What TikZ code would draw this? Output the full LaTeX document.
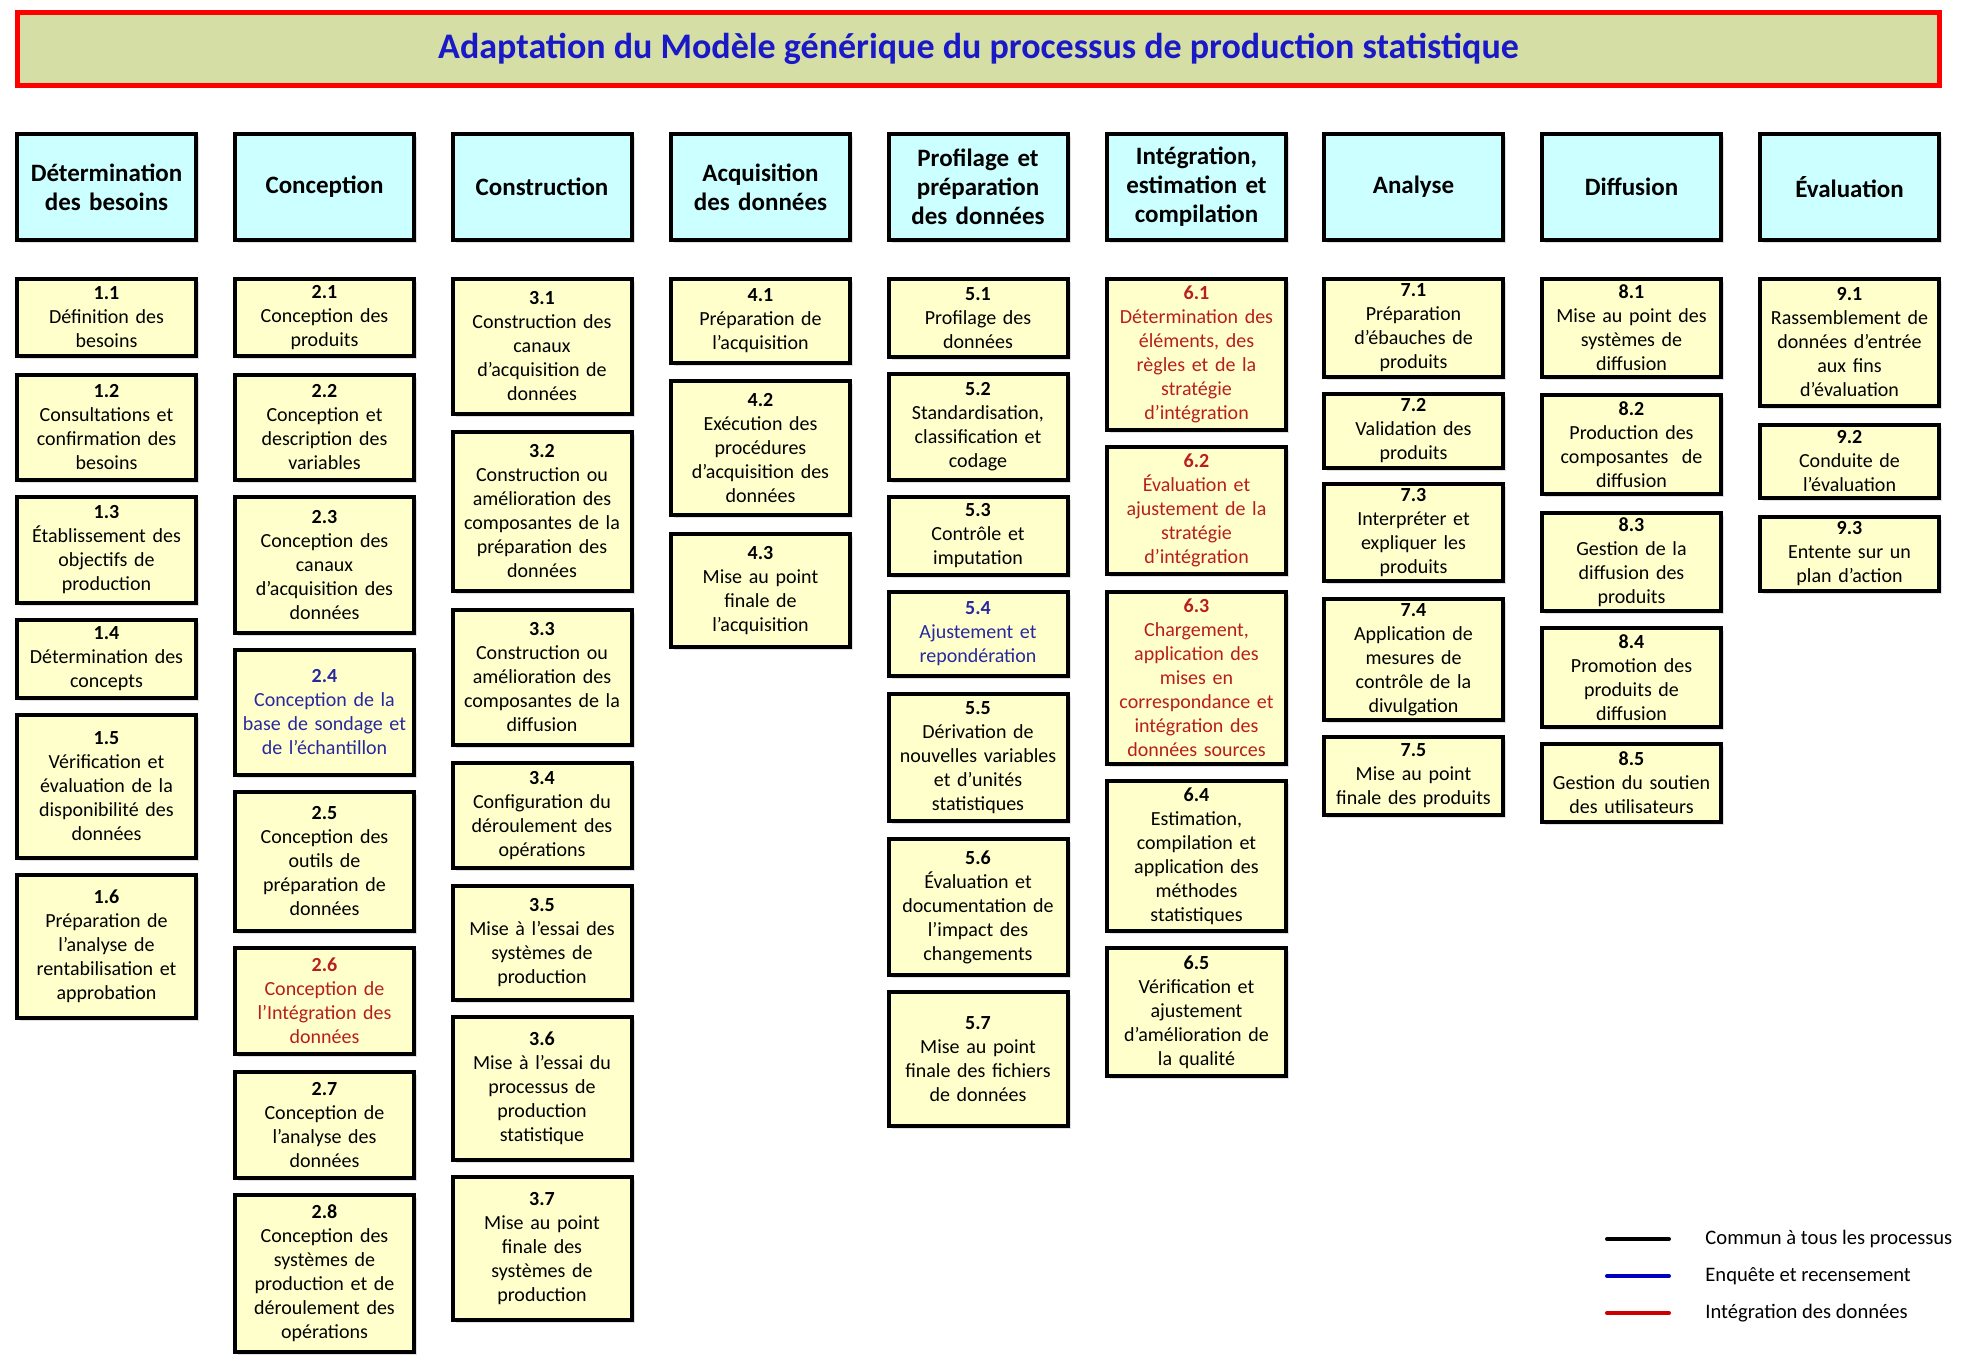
\documentclass[tikz,border=0pt]{standalone}
\usepackage{fontspec}
\setmainfont{Carlito}
\definecolor{boxjaune}{RGB}{255,255,204}
\definecolor{boxcyan}{RGB}{204,255,255}
\definecolor{titrefond}{RGB}{213,222,164}
\definecolor{titrebleu}{RGB}{25,25,200}
\definecolor{enqbleu}{RGB}{40,40,160}
\definecolor{introuge}{RGB}{185,30,30}
\usetikzlibrary{shadows,calc}

\begin{document}
\begin{tikzpicture}[x=0.5pt,y=-0.5pt,
  etape/.style={draw=black, line width=2pt, fill=boxjaune, align=center,
    text width=87pt, inner xsep=1.25pt, inner ysep=0pt,
    font=\fontsize{10}{12}\selectfont,
    drop shadow={shadow xshift=1.5pt, shadow yshift=-1.5pt, opacity=0.25}},
  phasebox/.style={draw=black, line width=2pt, fill=boxcyan, align=center,
    text width=87pt, inner xsep=1.25pt, minimum height=53pt,
    font=\bfseries\fontsize{12.5}{14.5}\selectfont,
    drop shadow={shadow xshift=1.5pt, shadow yshift=-1.5pt, opacity=0.25}},
  haut/.style={minimum height=#1*0.5pt-2pt},
  enq/.style={text=enqbleu},
  integ/.style={text=introuge},
  legtexte/.style={anchor=west, inner sep=0pt, font=\fontsize{10.3}{12}\selectfont},
  legende/.style={line width=2pt, line cap=round}]
\useasboundingbox (0,0) rectangle (1977,1356);

% titre
\node[draw=red, line width=2.5pt, fill=titrefond, minimum width=961pt, minimum height=36.5pt,
  font=\bfseries\fontsize{18}{21}\selectfont, text=titrebleu] (titre) at (978.5,49)
  {Adaptation du Modèle générique du processus de production statistique};

% phases
\node[phasebox] (p1) at (106.5,187) {Détermination\\des besoins};
\node[phasebox] (p2) at (324.5,187) {Conception};
\node[phasebox] (p3) at (542,187) {Construction};
\node[phasebox] (p4) at (760.5,187) {Acquisition\\des données};
\node[phasebox] (p5) at (978,187) {Profilage et\\préparation\\des données};
\node[phasebox] (p6) at (1196.5,187) {Intégration,\\estimation et\\compilation};
\node[phasebox] (p7) at (1413.5,187) {Analyse};
\node[phasebox] (p8) at (1631.5,187) {Diffusion};
\node[phasebox] (p9) at (1849.5,187) {Évaluation};

% 1 - besoins
\node[etape, haut=81] (e11) at (106.5,317.5) {\textbf{1.1}\\Définition des\\besoins};
\node[etape, haut=109] (e12) at (106.5,427.5) {\textbf{1.2}\\Consultations et\\confirmation des\\besoins};
\node[etape, haut=110] (e13) at (106.5,550) {\textbf{1.3}\\Établissement des\\objectifs de\\production};
\node[etape, haut=82] (e14) at (106.5,659) {\textbf{1.4}\\Détermination des\\concepts};
\node[etape, haut=147] (e15) at (106.5,786.5) {\textbf{1.5}\\Vérification et\\évaluation de la\\disponibilité des\\données};
\node[etape, haut=147] (e16) at (106.5,946.5) {\textbf{1.6}\\Préparation de\\l'analyse de\\rentabilisation et\\approbation};

% 2 - conception
\node[etape, haut=81] (e21) at (324.5,317.5) {\textbf{2.1}\\Conception des\\produits};
\node[etape, haut=109] (e22) at (324.5,427.5) {\textbf{2.2}\\Conception et\\description des\\variables};
\node[etape, haut=140] (e23) at (324.5,565) {\textbf{2.3}\\Conception des\\canaux\\d’acquisition des\\données};
\node[etape, enq, haut=129] (e24) at (324.5,712.5) {\textbf{2.4}\\Conception de la\\base de sondage et\\de l'échantillon};
\node[etape, haut=143] (e25) at (324.5,861.5) {\textbf{2.5}\\Conception des\\outils de\\préparation de\\données};
\node[etape, integ, haut=110] (e26) at (324.5,1001) {\textbf{2.6}\\Conception de\\l'Intégration des\\données};
\node[etape, haut=110] (e27) at (324.5,1125) {\textbf{2.7}\\Conception de\\l'analyse des\\données};
\node[etape, haut=161] (e28) at (324.5,1273.5) {\textbf{2.8}\\Conception des\\systèmes de\\production et de\\déroulement des\\opérations};

% 3 - construction
\node[etape, haut=139] (e31) at (542,346.5) {\textbf{3.1}\\Construction des\\canaux\\d’acquisition de\\données};
\node[etape, haut=163] (e32) at (542,511.5) {\textbf{3.2}\\Construction ou\\amélioration des\\composantes de la\\préparation des\\données};
\node[etape, haut=139] (e33) at (542,677.5) {\textbf{3.3}\\Construction ou\\amélioration des\\composantes de la\\diffusion};
\node[etape, haut=109] (e34) at (542,815.5) {\textbf{3.4}\\Configuration du\\déroulement des\\opérations};
\node[etape, haut=118] (e35) at (542,943) {\textbf{3.5}\\Mise à l'essai des\\systèmes de\\production};
\node[etape, haut=147] (e36) at (542,1088.5) {\textbf{3.6}\\Mise à l'essai du\\processus de\\production\\statistique};
\node[etape, haut=147] (e37) at (542,1248.5) {\textbf{3.7}\\Mise au point\\finale des\\systèmes de\\production};

% 4 - acquisition
\node[etape, haut=88] (e41) at (760.5,321) {\textbf{4.1}\\Préparation de\\l’acquisition};
\node[etape, haut=138] (e42) at (760.5,448) {\textbf{4.2}\\Exécution des\\procédures\\d’acquisition des\\données};
\node[etape, haut=117] (e43) at (760.5,590.5) {\textbf{4.3}\\Mise au point\\finale de\\l’acquisition};

% 5 - profilage
\node[etape, haut=82] (e51) at (978,318) {\textbf{5.1}\\Profilage des\\données};
\node[etape, haut=110] (e52) at (978,427) {\textbf{5.2}\\Standardisation,\\classification et\\codage};
\node[etape, haut=82] (e53) at (978,536) {\textbf{5.3}\\Contrôle et\\imputation};
\node[etape, enq, haut=88] (e54) at (978,634) {\textbf{5.4}\\Ajustement et\\repondération};
\node[etape, haut=131] (e55) at (978,757.5) {\textbf{5.5}\\Dérivation de\\nouvelles variables\\et d’unités\\statistiques};
\node[etape, haut=140] (e56) at (978,907) {\textbf{5.6}\\Évaluation et\\documentation de\\l’impact des\\changements};
\node[etape, haut=138] (e57) at (978,1059) {\textbf{5.7}\\Mise au point\\finale des fichiers\\de données};

% 6 - integration
\node[etape, integ, haut=155] (e61) at (1196.5,354.5) {\textbf{6.1}\\Détermination des\\éléments, des\\règles et de la\\stratégie\\d’intégration};
\node[etape, integ, haut=131] (e62) at (1196.5,510.5) {\textbf{6.2}\\Évaluation et\\ajustement de la\\stratégie\\d’intégration};
\node[etape, integ, haut=176] (e63) at (1196.5,678) {\textbf{6.3}\\Chargement,\\application des\\mises en\\correspondance et\\intégration des\\données sources};
\node[etape, haut=154] (e64) at (1196.5,856) {\textbf{6.4}\\Estimation,\\compilation et\\application des\\méthodes\\statistiques};
\node[etape, haut=132] (e65) at (1196.5,1012) {\textbf{6.5}\\Vérification et\\ajustement\\d’amélioration de\\la qualité};

% 7 - analyse
\node[etape, haut=102] (e71) at (1413.5,328) {\textbf{7.1}\\Préparation\\d'ébauches de\\produits};
\node[etape, haut=78] (e72) at (1413.5,431) {\textbf{7.2}\\Validation des\\produits};
\node[etape, haut=101] (e73) at (1413.5,532.5) {\textbf{7.3}\\Interpréter et\\expliquer les\\produits};
\node[etape, haut=125] (e74) at (1413.5,659.5) {\textbf{7.4}\\Application de\\mesures de\\contrôle de la\\divulgation};
\node[etape, haut=82] (e75) at (1413.5,776) {\textbf{7.5}\\Mise au point\\finale des produits};

% 8 - diffusion
\node[etape, haut=102] (e81) at (1631.5,328) {\textbf{8.1}\\Mise au point des\\systèmes de\\diffusion};
\node[etape, haut=103] (e82) at (1631.5,444.5) {\textbf{8.2}\\Production des\\composantes~ de\\diffusion};
\node[etape, haut=102] (e83) at (1631.5,562) {\textbf{8.3}\\Gestion de la\\diffusion des\\produits};
\node[etape, haut=103] (e84) at (1631.5,677.5) {\textbf{8.4}\\Promotion des\\produits de\\diffusion};
\node[etape, haut=82] (e85) at (1631.5,783) {\textbf{8.5}\\Gestion du soutien\\des utilisateurs};

% 9 - evaluation
\node[etape, haut=131] (e91) at (1849.5,342.5) {\textbf{9.1}\\Rassemblement de\\données d'entrée\\aux fins\\d'évaluation};
\node[etape, haut=77] (e92) at (1849.5,461.5) {\textbf{9.2}\\Conduite de\\l'évaluation};
\node[etape, haut=78] (e93) at (1849.5,554) {\textbf{9.3}\\Entente sur un\\plan d'action};

% legende
\node[legtexte] (leg1) at (1705,1239) {Commun à tous les processus};
\node[legtexte] (leg2) at (1705,1276) {Enquête et recensement};
\node[legtexte] (leg3) at (1705,1313) {Intégration des données};
\draw[legende, black] ($(leg1.west)+(-98,0)$) -- ($(leg1.west)+(-36,0)$);
\draw[legende, blue!75!black] ($(leg2.west)+(-98,0)$) -- ($(leg2.west)+(-36,0)$);
\draw[legende, red!80!black] ($(leg3.west)+(-98,0)$) -- ($(leg3.west)+(-36,0)$);
\end{tikzpicture}
\end{document}
